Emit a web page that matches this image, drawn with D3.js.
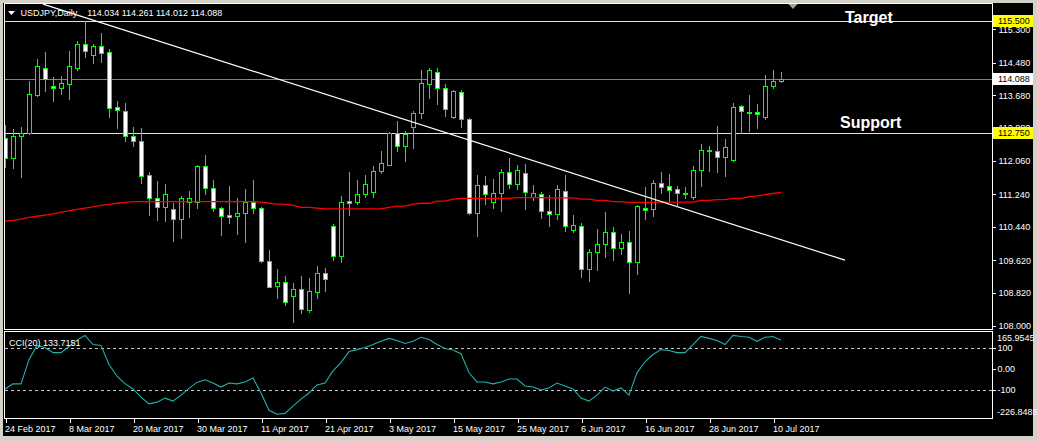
<!DOCTYPE html>
<html><head><meta charset="utf-8">
<script src="https://cdn.jsdelivr.net/npm/d3@7"></script>
<style>
html,body{margin:0;padding:0;background:#d4d0c8;}
svg{display:block;}
text{font-family:'Liberation Sans',Arial,sans-serif;}
</style></head>
<body>
<script>
// ---------- DATA ----------
const symbolTitle = "USDJPY,Daily";
const headerValues = "114.034 114.261 114.012 114.088";
const dates = [
"2017-02-24","2017-02-27","2017-02-28",
"2017-03-01","2017-03-02","2017-03-03","2017-03-06","2017-03-07","2017-03-08","2017-03-09","2017-03-10","2017-03-13","2017-03-14","2017-03-15","2017-03-16","2017-03-17","2017-03-20","2017-03-21","2017-03-22","2017-03-23","2017-03-24","2017-03-27","2017-03-28","2017-03-29","2017-03-30","2017-03-31",
"2017-04-03","2017-04-04","2017-04-05","2017-04-06","2017-04-07","2017-04-10","2017-04-11","2017-04-12","2017-04-13","2017-04-14","2017-04-17","2017-04-18","2017-04-19","2017-04-20","2017-04-21","2017-04-24","2017-04-25","2017-04-26","2017-04-27","2017-04-28",
"2017-05-01","2017-05-02","2017-05-03","2017-05-04","2017-05-05","2017-05-08","2017-05-09","2017-05-10","2017-05-11","2017-05-12","2017-05-15","2017-05-16","2017-05-17","2017-05-18","2017-05-19","2017-05-22","2017-05-23","2017-05-24","2017-05-25","2017-05-26","2017-05-29","2017-05-30","2017-05-31",
"2017-06-01","2017-06-02","2017-06-05","2017-06-06","2017-06-07","2017-06-08","2017-06-09","2017-06-12","2017-06-13","2017-06-14","2017-06-15","2017-06-16","2017-06-19","2017-06-20","2017-06-21","2017-06-22","2017-06-23","2017-06-26","2017-06-27","2017-06-28","2017-06-29","2017-06-30",
"2017-07-03","2017-07-04","2017-07-05","2017-07-06","2017-07-07","2017-07-10","2017-07-11"];
const opens = [112.62,112.13,112.67,112.74,113.68,114.36,113.90,113.85,113.95,114.36,
 114.95,114.66,114.88,114.73,113.38,113.28,112.67,112.55,111.71,111.14,
 110.92,110.87,110.63,111.05,111.05,111.93,111.39,110.90,110.73,110.70,
 110.78,111.05,110.90,109.60,108.98,109.08,108.74,108.91,108.39,108.84,
 109.30,110.46,109.72,111.07,111.05,111.24,111.29,111.81,111.96,112.74,
 112.42,112.89,113.23,113.95,114.24,113.85,113.14,113.75,113.09,110.78,
 111.46,111.05,111.27,111.78,111.49,111.76,111.17,111.24,110.83,110.75,
 111.32,110.36,110.46,109.40,109.82,110.01,110.31,109.92,110.06,109.57,
 110.90,110.87,111.51,111.44,111.37,111.28,111.17,111.83,112.33,112.30,
 112.15,112.08,113.41,113.27,113.26,113.14,113.90,114.034];
const highs = [112.94,112.84,112.89,114.04,114.58,114.73,114.12,114.14,114.76,115.02,
 115.50,114.95,115.21,114.82,113.53,113.48,112.89,112.86,111.78,111.56,
 111.49,111.02,111.19,111.32,111.95,112.20,111.59,110.92,111.44,111.14,
 111.37,111.59,110.92,109.87,109.40,109.23,109.06,109.23,109.18,109.47,
 109.43,110.50,111.19,111.78,111.59,111.71,111.93,112.30,112.77,113.04,
 112.79,113.28,114.31,114.36,114.36,113.95,113.80,113.80,113.12,111.71,
 111.69,111.61,111.86,112.13,111.96,111.98,111.46,111.29,111.22,111.46,
 111.71,110.73,110.53,109.89,110.38,110.80,110.43,110.26,110.33,110.97,
 111.42,111.59,111.78,111.73,111.44,111.42,111.93,112.47,112.42,112.91,
 112.59,113.48,113.43,113.68,113.45,114.17,114.29,114.261];
const lows = [111.92,111.88,111.66,112.72,113.65,113.77,113.53,113.70,113.58,114.31,
 114.63,114.46,114.49,113.14,112.86,112.55,112.42,111.51,110.73,110.60,
 110.58,110.09,110.16,110.68,110.90,111.24,110.83,110.24,110.53,110.26,
 110.06,110.78,109.58,108.95,108.69,108.52,108.10,108.32,108.34,108.69,
 108.86,109.62,109.57,110.73,111.00,111.17,111.17,111.76,111.96,112.30,
 112.05,112.37,113.11,113.60,113.45,113.16,113.11,112.89,110.75,110.21,
 111.00,110.90,110.83,111.39,111.37,110.87,111.10,110.65,110.46,110.63,
 110.33,110.31,109.20,109.11,109.37,109.70,109.62,109.77,108.81,109.28,
 110.63,110.70,111.27,111.07,110.97,111.14,111.12,111.44,111.81,111.78,
 111.69,112.05,112.74,112.79,112.86,113.09,113.85,114.012];
const closes = [112.13,112.67,112.74,113.70,114.39,114.07,113.86,113.97,114.39,114.93,
 114.76,114.88,114.71,113.36,113.31,112.67,112.55,111.69,111.14,110.92,
 111.24,110.63,111.14,111.14,111.93,111.39,110.90,110.70,110.68,110.78,
 111.05,110.90,109.60,108.96,109.08,108.59,108.91,108.42,108.86,109.30,
 109.15,109.72,111.05,111.03,111.24,111.49,111.81,112.00,112.74,112.42,
 112.72,113.23,113.99,114.29,113.85,113.33,113.77,113.09,110.78,111.46,
 111.24,111.27,111.78,111.49,111.83,111.29,111.27,110.83,110.75,111.37,
 110.46,110.48,109.40,109.82,110.01,110.31,109.92,110.06,109.57,110.95,
 110.85,111.51,111.42,111.34,111.27,111.26,111.83,112.32,112.31,112.15,
 112.40,113.38,113.28,113.25,113.21,113.90,114.02,114.088];
const maValues = [110.58,110.60,110.63,110.67,110.70,110.73,110.76,110.80,110.83,110.87,
 110.90,110.93,110.97,110.99,111.02,111.04,111.06,111.06,111.06,111.06,
 111.06,111.06,111.06,111.06,111.06,111.06,111.06,111.06,111.06,111.06,
 111.06,111.06,111.05,111.02,111.00,111.00,110.97,110.92,110.92,110.90,
 110.88,110.88,110.88,110.88,110.88,110.88,110.88,110.88,110.92,110.95,
 110.95,111.00,111.02,111.02,111.07,111.07,111.12,111.14,111.14,111.14,
 111.14,111.14,111.14,111.14,111.16,111.16,111.16,111.16,111.15,111.15,
 111.15,111.15,111.12,111.12,111.09,111.09,111.06,111.06,111.04,111.04,
 111.04,111.04,111.05,111.05,111.05,111.05,111.05,111.09,111.09,111.11,
 111.11,111.14,111.14,111.18,111.20,111.23,111.26,111.29];
const cciValues = [-95,-71,-71,43,110,100,76,76,105,135,
 157,114,110,20,-35,-70,-95,-133,-165,-157,
 -138,-152,-124,-92,-64,-52,-67,-86,-67,-71,
 -62,-43,-114,-195,-214,-210,-176,-143,-114,-76,
 -67,-10,29,81,90,100,114,129,143,133,
 119,129,148,138,114,95,88,71,-19,-62,
 -62,-71,-62,-48,-48,-81,-86,-100,-90,-67,
 -81,-95,-138,-152,-124,-86,-105,-90,-124,-19,
 33,67,90,86,76,76,114,152,143,133,
 114,157,152,148,129,148,152,133.7151];
const cciLabel = "CCI(20) 133.7151";
const priceTicks = [115.30,114.48,113.68,112.88,112.06,111.24,110.44,109.62,108.82,108.00];
const cciTicks = [100, 0, -100];
const cciExtremes = [165.9545, -226.8485];
const dateTickLabels = ["24 Feb 2017","8 Mar 2017","20 Mar 2017","30 Mar 2017","11 Apr 2017","21 Apr 2017","3 May 2017","15 May 2017","25 May 2017","6 Jun 2017","16 Jun 2017","28 Jun 2017","10 Jul 2017"];
const targetPrice = 115.500, supportPrice = 112.750, bidPrice = 114.088;
const levelLabels = ["Target","Support"];
const trendBars = [4.75, 105];
const trendPrices = [115.92, 109.62];

// ---------- DRAW ----------
const W = 1037, H = 441;
const L = 4.5, R = 992.5, mainTop = 3.5, mainBot = 329.5, cciTop = 331.5, cciBot = 418.5;
const svg = d3.select("body").append("svg").attr("width", W).attr("height", H);
svg.append("rect").attr("width", W).attr("height", H).attr("fill", "#d4d0c8");
svg.append("rect").attr("x", 3).attr("y", 3).attr("width", 1030).attr("height", 433).attr("fill", "#000");

const x = d3.scaleLinear().domain([0, 97]).range([5, 781]);
const y = d3.scaleLinear().domain([108, 115.3]).range([326, 29.3]);
const yc = d3.scaleLinear().domain([-226.8485, 165.9545]).range([417, 333.5]);
const px = v => Math.round(v) + 0.5;
const py = v => Math.round(v) + 0.5;

const defs = svg.append("defs");
defs.append("clipPath").attr("id", "mainClip").append("rect")
  .attr("x", L + 0.5).attr("y", mainTop + 0.5).attr("width", R - L - 1).attr("height", mainBot - mainTop - 1);
defs.append("clipPath").attr("id", "cciClip").append("rect")
  .attr("x", L + 0.5).attr("y", cciTop + 0.5).attr("width", R - L - 1).attr("height", cciBot - cciTop - 1);

const main = svg.append("g").attr("clip-path", "url(#mainClip)");
const bars = dates.map((d, i) => ({i, d, o: opens[i], h: highs[i], l: lows[i], c: closes[i], ma: maValues[i], cci: cciValues[i]}));

// horizontal level lines
[[targetPrice, "#ffff00"], [supportPrice, "#ffff00"], [bidPrice, "#778899"]].forEach(([p, col]) => {
  main.append("line").attr("x1", L).attr("x2", R).attr("y1", py(y(p))).attr("y2", py(y(p)))
    .attr("stroke", col).attr("stroke-width", 1).attr("shape-rendering", "crispEdges");
});

// candles
const cg = main.append("g").attr("shape-rendering", "crispEdges");
cg.selectAll("line.wick").data(bars).join("line").attr("class", "wick")
  .attr("x1", d => px(x(d.i))).attr("x2", d => px(x(d.i)))
  .attr("y1", d => Math.round(y(d.h))).attr("y2", d => Math.round(y(d.l)) + 1)
  .attr("stroke", "#00ff00").attr("stroke-width", 1);
cg.selectAll("rect.body").data(bars).join("rect").attr("class", "body")
  .attr("x", d => Math.round(x(d.i)) - 2 + 0.5)
  .attr("y", d => Math.round(y(Math.max(d.o, d.c))) + 0.5)
  .attr("width", 4)
  .attr("height", d => Math.max(1, Math.round(y(Math.min(d.o, d.c))) - Math.round(y(Math.max(d.o, d.c)))))
  .attr("fill", d => d.c < d.o ? "#ffffff" : "#000000")
  .attr("stroke", "#00ff00").attr("stroke-width", 1);

// moving average
main.append("path").datum(bars)
  .attr("d", d3.line().x(d => x(d.i)).y(d => y(d.ma)))
  .attr("fill", "none").attr("stroke", "#ff0000").attr("stroke-width", 1.3);

// trend line
main.append("line")
  .attr("x1", x(trendBars[0])).attr("y1", y(trendPrices[0]))
  .attr("x2", x(trendBars[1])).attr("y2", y(trendPrices[1]))
  .attr("stroke", "#ffffff").attr("stroke-width", 1.2);

// Target / Support labels
main.append("text").attr("x", 845).attr("y", 23).text(levelLabels[0])
  .attr("fill", "#fff").attr("font-size", 16).attr("font-weight", "bold");
main.append("text").attr("x", 840).attr("y", 128).text(levelLabels[1])
  .attr("fill", "#fff").attr("font-size", 16).attr("font-weight", "bold");

// header
svg.append("path").attr("d", "M8,11 L15,11 L11.5,15 Z").attr("fill", "#fff");
svg.append("text").attr("x", 20.5).attr("y", 15.5).text(symbolTitle).attr("fill", "#fff").attr("font-size", 9);
svg.append("text").attr("x", 87.3).attr("y", 15.5).text(headerValues).attr("fill", "#fff").attr("font-size", 9)
  .attr("style", "white-space:pre");
// shift marker
svg.append("path").attr("d", "M788,3.5 L798,3.5 L793,9 Z").attr("fill", "#a0a0a0");

// CCI panel
const cg2 = svg.append("g").attr("clip-path", "url(#cciClip)");
cciTicks.filter(v => v !== 0).forEach(v => {
  cg2.append("line").attr("x1", L).attr("x2", R).attr("y1", py(yc(v))).attr("y2", py(yc(v)))
    .attr("stroke", "#c8c8c8").attr("stroke-dasharray", "3,3").attr("shape-rendering", "crispEdges");
});
cg2.append("path").datum(bars)
  .attr("d", d3.line().x(d => x(d.i)).y(d => yc(d.cci)))
  .attr("fill", "none").attr("stroke", "#20b2aa").attr("stroke-width", 1.1);
svg.append("text").attr("x", 9).attr("y", 346).text(cciLabel).attr("fill", "#fff").attr("font-size", 9);

// frames
svg.append("rect").attr("x", L).attr("y", mainTop).attr("width", R - L).attr("height", mainBot - mainTop)
  .attr("fill", "none").attr("stroke", "#fff").attr("shape-rendering", "crispEdges");
svg.append("rect").attr("x", L).attr("y", cciTop).attr("width", R - L).attr("height", cciBot - cciTop)
  .attr("fill", "none").attr("stroke", "#fff").attr("shape-rendering", "crispEdges");

// price axis
const yAxis = d3.axisRight(y).tickValues(priceTicks).tickSize(3).tickPadding(3).tickFormat(d3.format(".3f"));
const ya = svg.append("g").attr("transform", `translate(${R},0)`).call(yAxis);
ya.select(".domain").remove();
ya.selectAll(".tick line").attr("stroke", "#fff").attr("shape-rendering", "crispEdges");
ya.selectAll(".tick text").attr("fill", "#fff").attr("font-size", 9).attr("font-family", "'Liberation Sans',Arial,sans-serif");

// price label boxes
[[targetPrice, "#ffff00"], [bidPrice, "#ffffff"], [supportPrice, "#ffff00"]].forEach(([p, col]) => {
  const yy = Math.round(y(p));
  svg.append("rect").attr("x", 993).attr("y", yy - 6).attr("width", 40).attr("height", 12).attr("fill", col);
  svg.append("text").attr("x", 998).attr("y", yy).attr("dy", "0.32em").text(d3.format(".3f")(p))
    .attr("fill", "#000").attr("font-size", 9);
});

// CCI axis
const cAxis = d3.axisRight(yc).tickValues(cciTicks).tickSize(3).tickPadding(2)
  .tickFormat(v => v === 0 ? "0.00" : String(v));
const ca = svg.append("g").attr("transform", `translate(${R},0)`).call(cAxis);
ca.select(".domain").remove();
ca.selectAll(".tick line").attr("stroke", "#fff").attr("shape-rendering", "crispEdges");
ca.selectAll(".tick text").attr("fill", "#fff").attr("font-size", 9).attr("font-family", "'Liberation Sans',Arial,sans-serif");
svg.append("text").attr("x", 997).attr("y", 338).attr("dy", "0.32em").text(cciExtremes[0]).attr("fill", "#fff").attr("font-size", 9);
svg.append("text").attr("x", 997).attr("y", 412).attr("dy", "0.32em").text(cciExtremes[1]).attr("fill", "#fff").attr("font-size", 9);

// date axis
const fmt = d3.timeFormat("%-d %b %Y"), parse = d3.timeParse("%Y-%m-%d");
const tickIdx = dateTickLabels.map(lbl => dates.findIndex(d => fmt(parse(d)) === lbl));
const xAxis = d3.axisBottom(x).tickValues(tickIdx).tickSize(4).tickPadding(3)
  .tickFormat(i => fmt(parse(dates[i])));
const xa = svg.append("g").attr("transform", `translate(0.5,${cciBot})`).call(xAxis);
xa.select(".domain").remove();
xa.selectAll(".tick line").attr("stroke", "#fff").attr("shape-rendering", "crispEdges");
xa.selectAll(".tick text").attr("fill", "#fff").attr("font-size", 9).attr("text-anchor", "start")
  .attr("x", -1).attr("font-family", "'Liberation Sans',Arial,sans-serif");
</script>
</body></html>
